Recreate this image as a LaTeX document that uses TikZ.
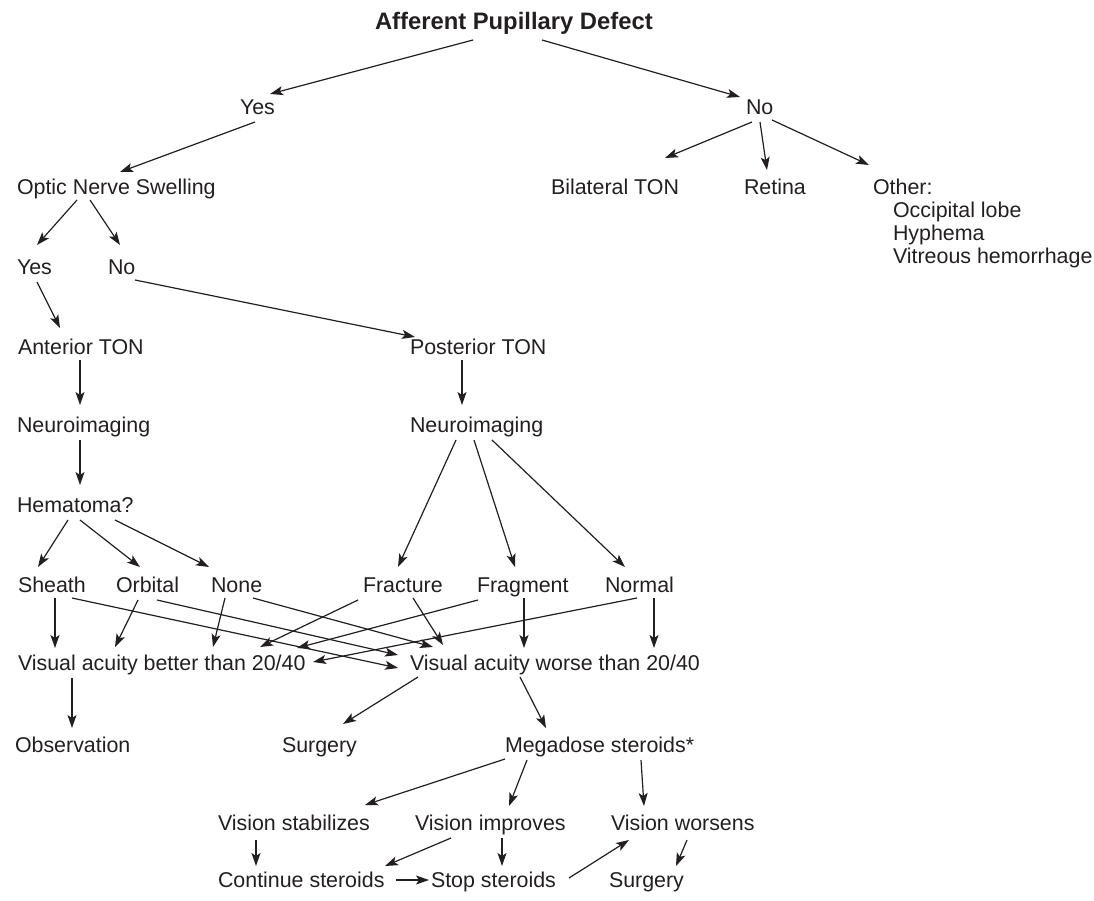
\documentclass[tikz,border=0pt]{standalone}
\usepackage{fontspec}
\setmainfont{Liberation Sans}
\usetikzlibrary{arrows.meta}
\definecolor{ink}{HTML}{231F20}
\begin{document}
\begin{tikzpicture}[x=1pt,y=-1pt,
  lbl/.style={anchor=west,inner sep=0pt,outer sep=0pt,text height=15.3pt,text depth=0pt,
    font=\fontsize{21.4}{24}\selectfont,text=ink},
  ttl/.style={lbl,font=\fontsize{23.8}{26}\selectfont\bfseries,text height=17pt},
  arr/.style={-{Stealth[length=13pt,width=9pt,inset=3pt]},line width=1.2pt,draw=ink}]
\useasboundingbox (0,0) rectangle (1094,901);
% nodes
\node[ttl] (title) at (375,21) {Afferent Pupillary Defect};
\node[lbl] (yes1) at (240,107) {Yes};
\node[lbl] (no1) at (746,107) {No};
\node[lbl] (ons) at (17,187) {Optic Nerve Swelling};
\node[lbl] (bil) at (551,187) {Bilateral TON};
\node[lbl] (ret) at (744,187) {Retina};
\node[lbl] (oth) at (873,187) {Other:};
\node[lbl] (occ) at (893,210) {Occipital lobe};
\node[lbl] (hyp) at (893,233) {Hyphema};
\node[lbl] (vit) at (893,256) {Vitreous hemorrhage};
\node[lbl] (yes2) at (17,267) {Yes};
\node[lbl] (no2) at (108,267) {No};
\node[lbl] (ant) at (18,347) {Anterior TON};
\node[lbl] (post) at (410,347) {Posterior TON};
\node[lbl] (neuL) at (17,425) {Neuroimaging};
\node[lbl] (neuR) at (410,425) {Neuroimaging};
\node[lbl] (hem) at (17,505) {Hematoma?};
\node[lbl] (sheath) at (18,585) {Sheath};
\node[lbl] (orbital) at (116,585) {Orbital};
\node[lbl] (none) at (211,585) {None};
\node[lbl] (fracture) at (363,585) {Fracture};
\node[lbl] (fragment) at (477,585) {Fragment};
\node[lbl] (normal) at (605,585) {Normal};
\node[lbl] (vab) at (18,663) {Visual acuity better than 20/40};
\node[lbl] (vaw) at (410,663) {Visual acuity worse than 20/40};
\node[lbl] (obs) at (15,745) {Observation};
\node[lbl] (surg1) at (282,745) {Surgery};
\node[lbl] (mega) at (505,745) {Megadose steroids*};
\node[lbl] (vstab) at (218,823) {Vision stabilizes};
\node[lbl] (vimp) at (415,823) {Vision improves};
\node[lbl] (vwor) at (611,823) {Vision worsens};
\node[lbl] (cont) at (218,880) {Continue steroids};
\node[lbl] (stop) at (431,880) {Stop steroids};
\node[lbl] (surg2) at (609,880) {Surgery};
% connectors
\draw[arr] ([shift={(98,19)}]title.west) -- ([shift={(30,-13)}]yes1.west);
\draw[arr] ([shift={(167,19)}]title.west) -- ([shift={(-6,-10)}]no1.west);
\draw[arr] ([shift={(15,15)}]yes1.west) -- ([shift={(103,-15)}]ons.west);
\draw[arr] ([shift={(6,15)}]no1.west) -- ([shift={(114,-29)}]bil.west);
\draw[arr] ([shift={(14,15)}]no1.west) -- ([shift={(23,-17)}]ret.west);
\draw[arr] ([shift={(26,13)}]no1.west) -- ([shift={(-4,-22)}]oth.west);
\draw[arr] ([shift={(60,13)}]ons.west) -- ([shift={(20,-22)}]yes2.west);
\draw[arr] ([shift={(73,13)}]ons.west) -- ([shift={(12,-22)}]no2.west);
\draw[arr] ([shift={(20,15)}]yes2.west) -- ([shift={(42,-19)}]ant.west);
\draw[arr] ([shift={(27,13)}]no2.west) -- ([shift={(5,-10)}]post.west);
\draw[arr] ([shift={(62,13)}]ant.west) -- ([shift={(63,-20)}]neuL.west);
\draw[arr] ([shift={(52,13)}]post.west) -- ([shift={(52,-20)}]neuR.west);
\draw[arr] ([shift={(63,15)}]neuL.west) -- ([shift={(63,-20)}]hem.west);
\draw[arr] ([shift={(51,15)}]hem.west) -- ([shift={(20,-18)}]sheath.west);
\draw[arr] ([shift={(63,15)}]hem.west) -- ([shift={(24,-18)}]orbital.west);
\draw[arr] ([shift={(98,15)}]hem.west) -- ([shift={(-2,-18)}]none.west);
\draw[arr] ([shift={(46,15)}]neuR.west) -- ([shift={(35,-18)}]fracture.west);
\draw[arr] ([shift={(64,15)}]neuR.west) -- ([shift={(38,-18)}]fragment.west);
\draw[arr] ([shift={(82,15)}]neuR.west) -- ([shift={(20,-18)}]normal.west);
% row 7 to row 8
\draw[arr] ([shift={(37,13)}]sheath.west) -- ([shift={(37,-15)}]vab.west);
\draw[arr] ([shift={(54,13)}]sheath.west) -- ([shift={(-12,5)}]vaw.west);
\draw[arr] ([shift={(22,15)}]orbital.west) -- ([shift={(97,-16)}]vab.west);
\draw[arr] ([shift={(41,15)}]orbital.west) -- ([shift={(-12,-8)}]vaw.west);
\draw[arr] ([shift={(14,13)}]none.west) -- ([shift={(195,-16)}]vab.west);
\draw[arr] ([shift={(42,13)}]none.west) -- ([shift={(23,-16)}]vaw.west);
\draw[arr] ([shift={(-5,15)}]fracture.west) -- ([shift={(242,-16)}]vab.west);
\draw[arr] ([shift={(50,13)}]fracture.west) -- ([shift={(33,-18)}]vaw.west);
\draw[arr] ([shift={(1,15)}]fragment.west) -- ([shift={(279,-15)}]vab.west);
\draw[arr] ([shift={(47,13)}]fragment.west) -- ([shift={(114,-15)}]vaw.west);
\draw[arr] ([shift={(32,13)}]normal.west) -- ([shift={(295,-1)}]vab.west);
\draw[arr] ([shift={(49,13)}]normal.west) -- ([shift={(244,-15)}]vaw.west);
% row 8 to row 9
\draw[arr] ([shift={(54,15)}]vab.west) -- ([shift={(57,-17)}]obs.west);
\draw[arr] ([shift={(8,14)}]vaw.west) -- ([shift={(61,-21)}]surg1.west);
\draw[arr] ([shift={(110,14)}]vaw.west) -- ([shift={(41,-17)}]mega.west);
% row 9 to row 10
\draw[arr] ([shift={(0,14)}]mega.west) -- ([shift={(147,-18)}]vstab.west);
\draw[arr] ([shift={(22,15)}]mega.west) -- ([shift={(94,-17)}]vimp.west);
\draw[arr] ([shift={(136,15)}]mega.west) -- ([shift={(33,-17)}]vwor.west);
% row 10 to row 11
\draw[arr] ([shift={(38,17)}]vstab.west) -- ([shift={(38,-14)}]cont.west);
\draw[arr] ([shift={(36,15)}]vimp.west) -- ([shift={(167,-14)}]cont.west);
\draw[arr] ([shift={(87,15)}]vimp.west) -- ([shift={(71,-14)}]stop.west);
\draw[arr] ([shift={(178,0)}]cont.west) -- ([shift={(-2,0)}]stop.west);
\draw[arr] ([shift={(138,-2)}]stop.west) -- ([shift={(18,17)}]vwor.west);
\draw[arr] ([shift={(76,17)}]vwor.west) -- ([shift={(67,-14)}]surg2.west);
\end{tikzpicture}
\end{document}
